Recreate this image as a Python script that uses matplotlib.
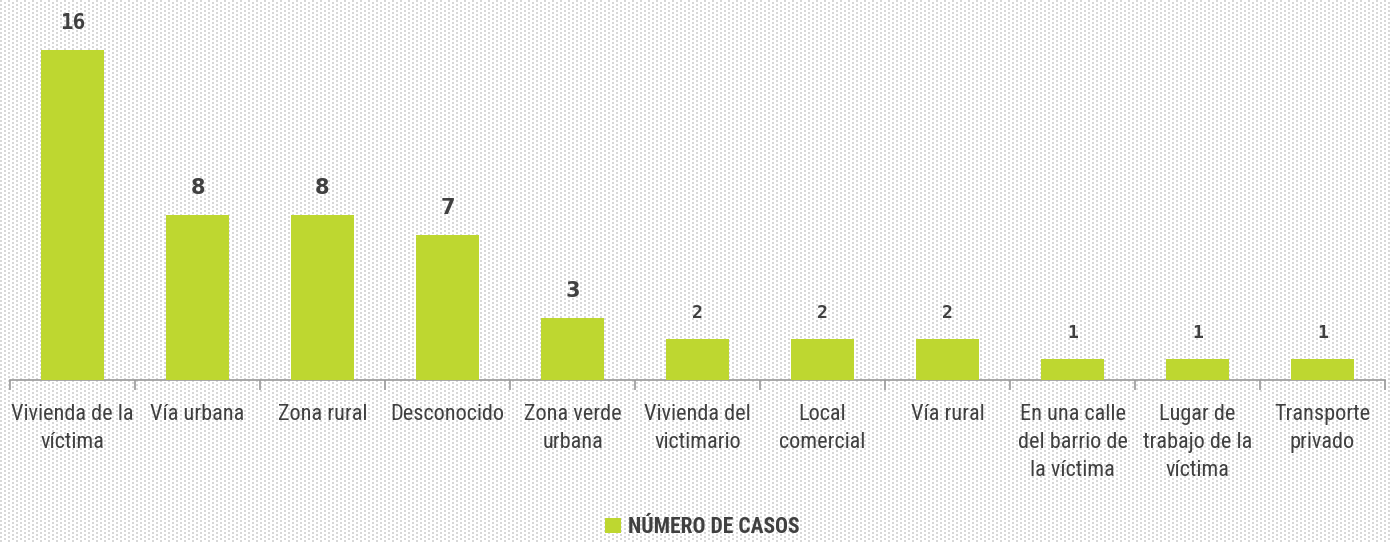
import numpy as np
import matplotlib
matplotlib.use("Agg")
import matplotlib.pyplot as plt
from matplotlib import font_manager as fm

categories = ["Vivienda de la\nvíctima", "Vía urbana", "Zona rural", "Desconocido",
              "Zona verde\nurbana", "Vivienda del\nvictimario", "Local\ncomercial",
              "Vía rural", "En una calle\ndel barrio de\nla víctima",
              "Lugar de\ntrabajo de la\nvíctima", "Transporte\nprivado"]
values = [16, 8, 8, 7, 3, 2, 2, 2, 1, 1, 1]
series_name = "NÚMERO DE CASOS"

names = {f.name for f in fm.fontManager.ttflist}
cond = "Roboto"
for cand in ["Roboto Condensed", "Liberation Sans Narrow", "Open Sans Condensed", "Roboto"]:
    if cand in names:
        cond = cand
        break

W, H = 1390, 542
fig = plt.figure(figsize=(W / 100, H / 100), dpi=100)
fig.patch.set_facecolor("white")

# dotted background
bg = fig.add_axes([0, 0, 1, 1], zorder=-10)
img = np.ones((H, W, 3))
yy, xx = np.mgrid[0:H, 0:W]
mask = (((yy % 4) < 2) & ((xx % 8) < 2)) | (((yy % 4) >= 2) & ((xx % 8) >= 4) & ((xx % 8) < 6))
img[mask] = 0.85
bg.imshow(img, aspect="auto", interpolation="nearest")
bg.axis("off")

ax = fig.add_axes([10 / W, (H - 380) / H, 1375 / W, 380 / H])
ax.patch.set_alpha(0)
x = np.arange(len(categories))
color = "#bed730"
bars = ax.bar(x, values, width=0.5, color=color, label=series_name, zorder=3)
ax.set_xlim(-0.5, len(categories) - 0.5)
ax.set_ylim(0, 18.4)
for xi, v in zip(x, values):
    if v in (8, 7, 3):
        fam, fs = "DejaVu Sans", 15
    elif v >= 10:
        fam, fs = "DejaVu Sans Mono", 15
    else:
        fam, fs = "DejaVu Sans Mono", 13
    ax.annotate(str(v), (xi, v), xytext=(0, 17), textcoords="offset pixels",
                ha="center", va="bottom", fontsize=fs, fontweight="bold",
                family=fam, color="#404040")

for s in ["top", "right", "left"]:
    ax.spines[s].set_visible(False)
ax.spines["bottom"].set_color("#9a9a9a")
ax.spines["bottom"].set_linewidth(1.2)
ax.set_yticks([])
ax.set_xticks(np.arange(len(categories) + 1) - 0.5)
ax.set_xticklabels([])
ax.tick_params(axis="x", length=7, color="#9a9a9a", width=1.2)
for xi, c in zip(x, categories):
    ax.text(xi, -1.15, c, ha="center", va="top", fontsize=16, family=cond,
            color="#404040", linespacing=1.45)

leg = fig.legend(handles=[bars], labels=[series_name], loc="center",
                 bbox_to_anchor=(702 / W, 1 - 527 / H), frameon=False,
                 handlelength=0.75, handleheight=0.75, handletextpad=0.3,
                 prop={"family": cond, "size": 15.5, "weight": "bold"})
for t in leg.get_texts():
    t.set_color("#404040")

fig.savefig("out.png", dpi=100)
